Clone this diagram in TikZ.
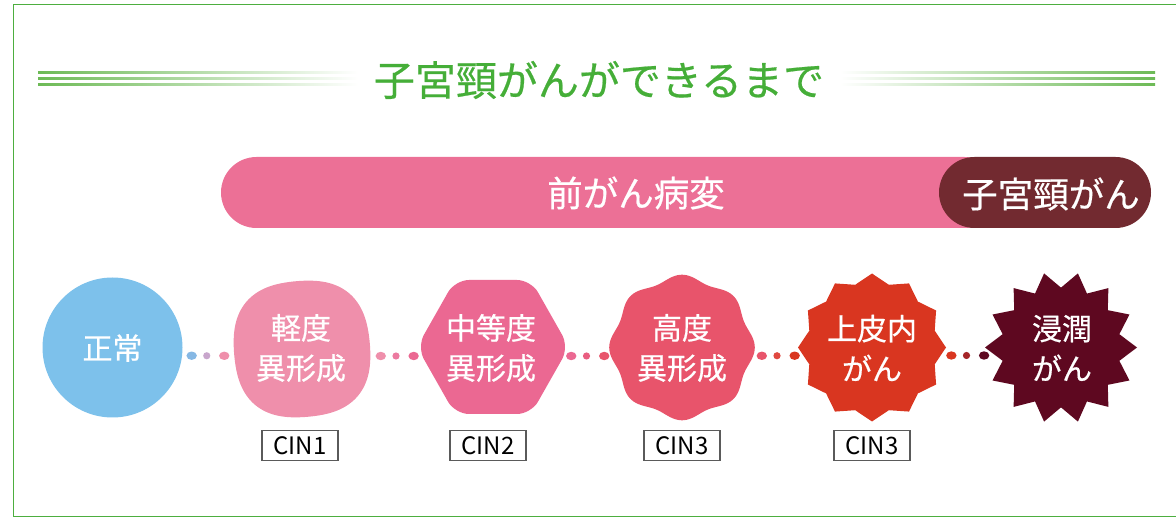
\documentclass[tikz,border=0pt]{standalone}
\usepackage{fontspec}
\setmainfont{Noto Sans CJK JP}
\newfontfamily\medfont{Noto Sans CJK JP}[FakeBold=0.5]
\usetikzlibrary{calc,shapes.geometric}
\definecolor{framegreen}{HTML}{4DAE3F}
\definecolor{titlegreen}{HTML}{45AE38}
\definecolor{linegreen}{HTML}{6DBA56}
\definecolor{barpink}{HTML}{EC7096}
\definecolor{capbrown}{HTML}{722A30}
\definecolor{cnormal}{HTML}{7DC1EB}
\definecolor{cmild}{HTML}{EF8FAB}
\definecolor{cmod}{HTML}{EB6892}
\definecolor{csev}{HTML}{E8546B}
\definecolor{ccis}{HTML}{D93620}
\definecolor{cinv}{HTML}{5E0820}
\definecolor{dblue}{HTML}{86B8E4}
\definecolor{dpurple}{HTML}{C8A6CC}
\definecolor{dpinkA}{HTML}{EC7AA0}
\definecolor{dpinkB}{HTML}{E95E80}
\definecolor{dredA}{HTML}{E04840}
\definecolor{dredB}{HTML}{A52528}
\definecolor{cingray}{HTML}{5A5A5A}
\newcommand\stagedots[5]{%
  \fill[#3] ($(#1.center)!0.42!(#2.center)+(0,8)$) ellipse[x radius=5.2pt,y radius=4.2pt];
  \fill[#4] ($(#1.center)!0.5!(#2.center)+(0,8)$) circle[radius=3.6pt];
  \fill[#5] ($(#1.center)!0.593!(#2.center)+(0,8)$) ellipse[x radius=5.2pt,y radius=4.2pt];}
\tikzset{
  stagetext/.style={font=\medfont\fontsize{30}{40}\selectfont, text=white, align=center, inner sep=0pt},
  bartext/.style={font=\medfont\fontsize{35.5}{40}\selectfont, text=white, inner sep=0pt},
  cinbox/.style={draw=cingray, line width=1.2pt, fill=white, minimum width=76pt, minimum height=30pt, inner sep=0pt, font=\fontsize{24}{28}\selectfont, text=black}
}
\begin{document}
\begin{tikzpicture}[x=1pt,y=-1pt]
\useasboundingbox (0,0) rectangle (1176,518);
% frame
\draw[framegreen, line width=1.3pt] (1180,4.7) -- (13.5,4.7) -- (13.5,516.6) -- (1180,516.6);
% title decoration lines
\foreach \yy in {72.8,78.8,84.5}{
  \shade[left color=linegreen, middle color=linegreen, right color=white] (38,\yy-1.15) rectangle (358,\yy+1.15);
  \shade[left color=white, middle color=linegreen, right color=linegreen] (840,\yy-1.15) rectangle (1155,\yy+1.15);
}
\node[font=\medfont\fontsize{41}{49}\selectfont, text=titlegreen, inner sep=0pt] (title) at (599,80) {子宮頸がんができるまで};
% top bar
\fill[barpink, rounded corners=35.5pt] (221,157) rectangle (1000,228);
\fill[capbrown, rounded corners=35.5pt] (939,157) rectangle (1151,228);
\node[bartext] (pre) at (636,193) {前がん病変};
\node[bartext] (cancer) at (1051,194) {子宮頸がん};
% stage shapes
\node[circle, fill=cnormal, minimum size=140pt, inner sep=0pt] (s0) at (112.5,347.5) {};
\fill[cmild] plot[domain=0:360, samples=145, variable=\t]
  ({302+70.5*(1+0.035*cos(4*(\t-40)))*cos(\t)}, {349+70.5*(1+0.035*cos(4*(\t-40)))*sin(\t)}) -- cycle;
\fill[cmod, rounded corners=14pt] (493-76,347) -- (493-38,347-67) -- (493+38,347-67) -- (493+76,347) -- (493+38,347+67) -- (493-38,347+67) -- cycle;
\fill[csev] plot[domain=0:360, samples=181, variable=\t]
  ({682+(70+2.8*cos(8*\t))*cos(\t)}, {347.5+(70+2.8*cos(8*\t))*sin(\t)}) -- cycle;
\node[star, star points=12, star point ratio=1.14, minimum size=148pt, inner sep=0pt, fill=ccis] (s4) at (872,347.5) {};
\node[star, star points=14, star point ratio=1.27, minimum size=152pt, inner sep=0pt, fill=cinv, shape border rotate=12.857] (s5) at (1061,347.5) {};
% stage texts
\node[stagetext] (n0) at (112.5,348) {正常};
\node[stagetext] (n1) at (301,348) {軽度\\異形成};
\node[stagetext] (n2) at (491,348) {中等度\\異形成};
\node[stagetext] (n3) at (682,348) {高度\\異形成};
\node[stagetext] (n4) at (872,348) {上皮内\\がん};
\node[stagetext] (n5) at (1062,348) {浸潤\\がん};
% dotted connectors
\stagedots{s0}{n1}{dblue}{dpurple}{cmild}
\stagedots{n1}{n2}{cmild}{dpinkA}{cmod}
\stagedots{n2}{n3}{cmod}{dpinkB}{csev}
\stagedots{n3}{s4}{csev}{dredA}{ccis}
\stagedots{s4}{s5}{ccis}{dredB}{cinv}
% CIN labels
\node[cinbox] (c1) at (300,445.5) {CIN1};
\node[cinbox] (c2) at (488,445.5) {CIN2};
\node[cinbox] (c3) at (682,445.5) {CIN3};
\node[cinbox] (c4) at (872,445.5) {CIN3};
\end{tikzpicture}
\end{document}
